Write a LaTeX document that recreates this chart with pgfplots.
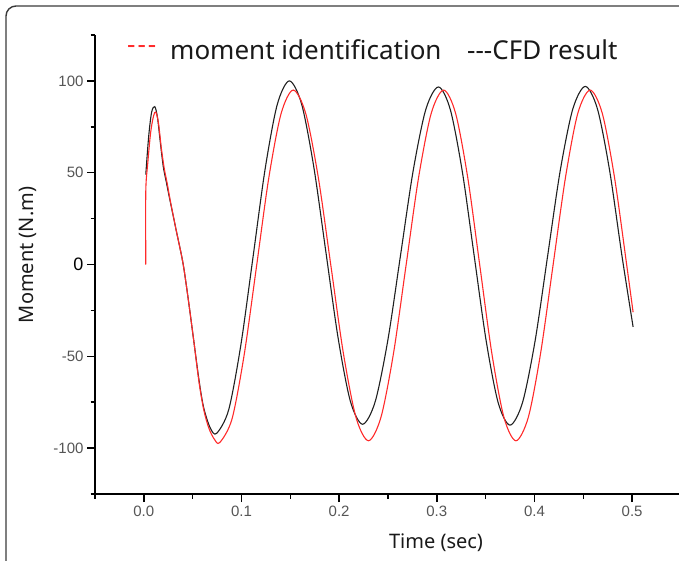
\documentclass[border=0pt]{standalone}
\usepackage{pgfplots}
\pgfplotsset{compat=1.18}
\usepackage{fontspec}
\setmainfont{Liberation Sans}
\newfontfamily\labelfont{Noto Sans}

\definecolor{cfdline}{HTML}{202020}
\definecolor{idline}{HTML}{FF2A2A}
\definecolor{ticktext}{HTML}{555555}
\definecolor{frame}{HTML}{3A3A3A}

\begin{document}
\begin{tikzpicture}
\useasboundingbox (0pt,0pt) rectangle (679pt,560pt);
% outer frame (cropped on right and bottom)
\draw[frame, line width=1.4pt, rounded corners=10pt] (6pt,-5pt) -- (6pt,554pt) -- (690pt,554pt);

\begin{axis}[
  at={(95pt,66pt)}, anchor=south west,
  scale only axis, width=584pt, height=459pt,
  xmin=-0.05, xmax=0.548,
  ymin=-125, ymax=125,
  axis x line*=bottom, axis y line*=left,
  axis line style={line width=1.6pt, black},
  tick align=outside,
  major tick length=8pt, minor tick length=4.5pt,
  every tick/.style={line width=1.6pt, black},
  xtick={0,0.1,0.2,0.3,0.4,0.5},
  minor xtick={-0.05,0.05,0.15,0.25,0.35,0.45},
  ytick={-100,-50,0,50,100},
  minor ytick={-125,-75,-25,25,75,125},
  xticklabels={0.0,0.1,0.2,0.3,0.4,0.5},
  yticklabels={-100,-50,{\color{black}\fontsize{18}{18}\selectfont 0},50,100},
  /pgf/number format/assume math mode=true,
  ticklabel style={font=\fontsize{15}{17}\selectfont, color=ticktext},
  clip=false,
]
% CFD result
\addplot[cfdline, line width=1.1pt, smooth, tension=0.5] coordinates {
  (0.002,49) (0.005,70) (0.008,83) (0.0112,86) (0.014,80) (0.017,66)
  (0.020,53) (0.023,45) (0.0256,38) (0.033,19) (0.040,1) (0.045,-17)
  (0.051,-41) (0.0565,-63) (0.0613,-78) (0.068,-89) (0.0745,-92)
  (0.0869,-79.1) (0.0993,-44) (0.1118,4) (0.1242,52) (0.1366,87.1) (0.149,100)
  (0.1615,87.5) (0.174,53.25) (0.1865,6.5) (0.199,-40.25) (0.2115,-74.5) (0.224,-87)
  (0.2369,-74.7) (0.2499,-41.1) (0.2628,4.85) (0.2757,50.8) (0.2887,84.4) (0.3016,96.7)
  (0.3138,84.4) (0.3261,50.65) (0.3383,4.6) (0.3505,-41.45) (0.3628,-75.2) (0.375,-87.5)
  (0.3878,-75.1) (0.4007,-41.4) (0.4135,4.75) (0.4263,50.9) (0.4392,84.6) (0.452,97)
  (0.4645,84.7) (0.477,51) (0.4895,5) (0.501,-34)
};
% moment identification
\addplot[idline, line width=1.1pt, smooth, tension=0.5] coordinates {
  (0.002,0) (0.002,40) (0.004,55) (0.007,72) (0.010,81) (0.0123,83) (0.015,77)
  (0.018,63) (0.021,52) (0.024,44) (0.027,35) (0.033,19) (0.040,1) (0.045,-17)
  (0.051,-41) (0.0565,-64) (0.0613,-79) (0.0665,-89) (0.072,-95) (0.0777,-97)
  (0.0903,-84.1) (0.1028,-49) (0.1154,-1) (0.1279,47) (0.1405,82.1) (0.153,95)
  (0.1658,82.2) (0.1787,47.25) (0.1915,-0.5) (0.2043,-48.25) (0.2172,-83.2) (0.230,-96)
  (0.2428,-83.2) (0.2557,-48.25) (0.2685,-0.5) (0.2813,47.25) (0.2942,82.2) (0.307,95)
  (0.3193,82.2) (0.3317,47.25) (0.344,-0.5) (0.3563,-48.25) (0.3687,-83.2) (0.381,-96)
  (0.3937,-83.2) (0.4063,-48.25) (0.419,-0.5) (0.4317,47.25) (0.4443,82.2) (0.457,95)
  (0.4695,82.2) (0.482,47.25) (0.4945,-0.5) (0.501,-26)
};
\end{axis}

% axis titles
\node[font=\labelfont\fontsize{20}{22}\selectfont, text=black!90] at (436pt,17pt) {Time (sec)};
\node[font=\labelfont\fontsize{20}{22}\selectfont, text=black!90, rotate=90] at (28pt,305pt) {Moment (N.m)};

% legend
\node[anchor=west, inner sep=0pt, font=\labelfont\fontsize{26}{28}\selectfont, text=idline] at (127pt,510pt) {-\kern2pt-\kern2pt-};
\node[anchor=west, inner sep=0pt, font=\labelfont\fontsize{26}{28}\selectfont, text=black!90] at (170pt,510pt) {moment identification};
\node[anchor=west, inner sep=0pt, font=\labelfont\fontsize{26}{28}\selectfont, text=black!90] at (467pt,510pt) {-{}-{}-CFD result};
\end{tikzpicture}
\end{document}
